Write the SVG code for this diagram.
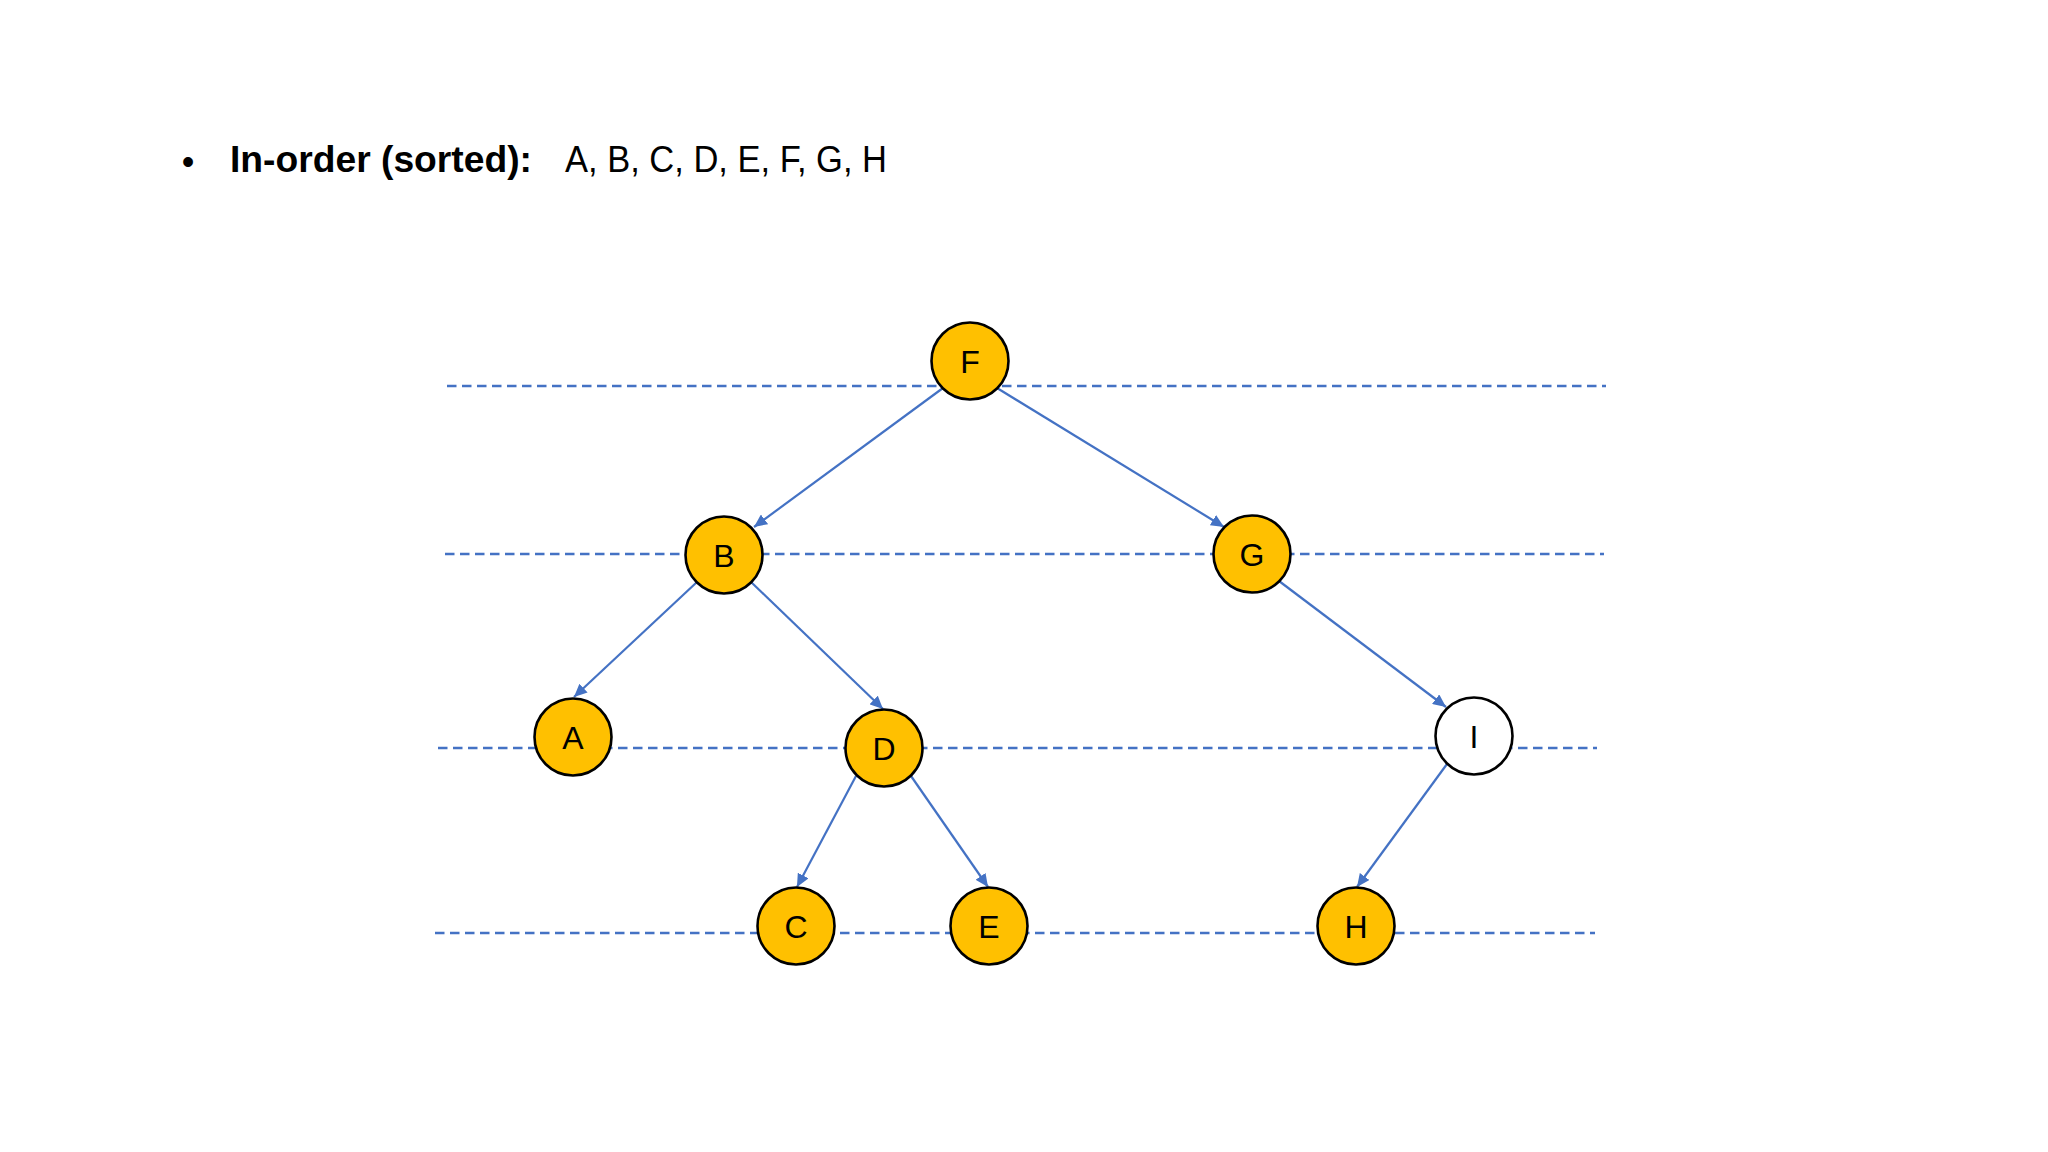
<svg xmlns="http://www.w3.org/2000/svg" width="2048" height="1152" viewBox="0 0 2048 1152">
<style>
.level{stroke:#4472C4;stroke-width:2.4;stroke-dasharray:9.5 5.5;fill:none}
.edge{stroke:#4472C4;stroke-width:2.2;fill:none;marker-end:url(#arrow)}
.node circle{fill:#FFC000;stroke:#000;stroke-width:2.6}
.node.empty circle{fill:#FFFFFF}
.node text{font-family:"Liberation Sans",Arial,sans-serif;font-size:32px;fill:#000;text-anchor:middle}
.hdr{font-family:"Liberation Sans",Arial,sans-serif;font-size:36px;fill:#000}
</style>
<defs>
<marker id="arrow" markerUnits="userSpaceOnUse" markerWidth="14" markerHeight="12" refX="13" refY="6" orient="auto">
<path d="M0,0 L13,6 L0,12 z" fill="#4472C4"/>
</marker>
</defs>
<rect width="2048" height="1152" fill="#FFFFFF"/>
<g id="header">
<text class="hdr" x="188" y="174" font-size="46" text-anchor="middle">•</text>
<text class="hdr" x="230" y="172" font-weight="bold" textLength="302" lengthAdjust="spacingAndGlyphs">In-order (sorted):</text>
<text class="hdr" x="565" y="172" textLength="322" lengthAdjust="spacingAndGlyphs">A, B, C, D, E, F, G, H</text>
</g>
<g id="levels">
<line class="level" x1="447" y1="386" x2="1606" y2="386"/>
<line class="level" x1="445" y1="554" x2="1604" y2="554"/>
<line class="level" x1="438" y1="748" x2="1597" y2="748"/>
<line class="level" x1="435" y1="933" x2="1595" y2="933"/>
</g>
<g id="connectors">
<line class="edge" x1="943" y1="388" x2="754" y2="527"/>
<line class="edge" x1="997" y1="388" x2="1224" y2="527"/>
<line class="edge" x1="697" y1="582" x2="574" y2="697"/>
<line class="edge" x1="751" y1="582" x2="883" y2="709"/>
<line class="edge" x1="1279" y1="581" x2="1446" y2="707"/>
<line class="edge" x1="856" y1="776" x2="797" y2="887"/>
<line class="edge" x1="911" y1="776" x2="988" y2="887"/>
<line class="edge" x1="1447" y1="764" x2="1357" y2="887"/>
</g>
<g id="node-F" class="node"><circle cx="970" cy="361" r="38.5"/><text x="970" y="372.5">F</text></g>
<g id="node-B" class="node"><circle cx="724" cy="555" r="38.5"/><text x="724" y="566.5">B</text></g>
<g id="node-G" class="node"><circle cx="1252" cy="554" r="38.5"/><text x="1252" y="565.5">G</text></g>
<g id="node-A" class="node"><circle cx="573" cy="737" r="38.5"/><text x="573" y="748.5">A</text></g>
<g id="node-D" class="node"><circle cx="884" cy="748" r="38.5"/><text x="884" y="759.5">D</text></g>
<g id="node-I" class="node empty"><circle cx="1474" cy="736" r="38.5"/><text x="1474" y="747.5">I</text></g>
<g id="node-C" class="node"><circle cx="796" cy="926" r="38.5"/><text x="796" y="937.5">C</text></g>
<g id="node-E" class="node"><circle cx="989" cy="926" r="38.5"/><text x="989" y="937.5">E</text></g>
<g id="node-H" class="node"><circle cx="1356" cy="926" r="38.5"/><text x="1356" y="937.5">H</text></g>
</svg>
